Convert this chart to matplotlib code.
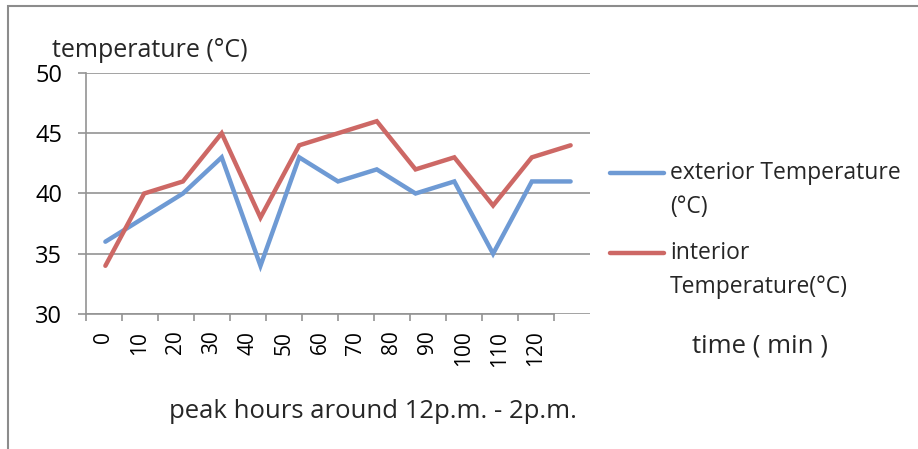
import matplotlib.pyplot as plt
import numpy as np
from matplotlib.lines import Line2D
from matplotlib.patches import Rectangle

plt.rcParams["font.family"] = ["Open Sans", "DejaVu Sans"]

times = ["0", "10", "20", "30", "40", "50", "60", "70", "80", "90", "100", "110", "120"]
exterior = [36, 38, 40, 43, 34, 43, 41, 42, 40, 41, 35, 41, 41]
interior = [34, 40, 41, 45, 38, 44, 45, 46, 42, 43, 39, 43, 44]
y_ticks = [30, 35, 40, 45, 50]

BLUE = "#6E9AD4"
RED = "#CD6865"
GRID = "#939393"
TEXT = "#262626"

W, H = 918, 449
fig = plt.figure(figsize=(W / 100, H / 100), dpi=100)

# data area (lines + gridlines) runs a bit wider than the category axis, as in the source
ax = fig.add_axes([86 / W, 0.3007, 504 / W, 0.5367])
# category axis with ticks / labels
cax = fig.add_axes([86 / W, 0.3007, 468 / W, 0.5367], sharey=ax)
cax.patch.set_visible(False)

x = np.arange(len(times))
ax.plot(x, exterior, color=BLUE, lw=3.2, solid_capstyle="round", solid_joinstyle="miter")
ax.plot(x, interior, color=RED, lw=3.2, solid_capstyle="round", solid_joinstyle="miter")

ax.set_xlim(-0.5, len(times) - 0.5)
ax.set_ylim(30, 50)
ax.set_yticks(y_ticks)
ax.set_yticklabels([str(v) for v in y_ticks], fontsize=17, color="black")
ax.yaxis.grid(True, color=GRID, lw=1.2)
ax.set_axisbelow(True)
ax.set_xticks([])
ax.tick_params(axis="y", length=6, color=GRID, width=1.2, pad=11)
for side in ["top", "right", "bottom"]:
    ax.spines[side].set_visible(False)
ax.spines["left"].set_color(GRID)
ax.spines["left"].set_linewidth(1.2)

cax.set_xlim(-0.5, len(times) - 0.5)
cax.set_xticks(x)
cax.set_xticklabels(times, rotation=90, fontsize=15, color="black", va="top")
cax.set_xticks(np.arange(-0.5, len(times)), minor=True)
cax.tick_params(axis="x", which="major", length=0, pad=12)
cax.tick_params(axis="x", which="minor", length=5, color=GRID, width=1.2)
cax.tick_params(axis="y", left=False, labelleft=False)
for side in ["top", "right", "left"]:
    cax.spines[side].set_visible(False)
cax.spines["bottom"].set_color(GRID)
cax.spines["bottom"].set_linewidth(1.2)

fig.text(52 / W, 0.873, "temperature (°C)", fontsize=18, color=TEXT, va="baseline")
fig.text(373 / W, 0.069, "peak hours around 12p.m. - 2p.m.", fontsize=18.5, color=TEXT, ha="center")
fig.text(692 / W, 0.214, "time ( min )", fontsize=18.5, color=TEXT)

# legend drawn by hand so the handle sits on the first text line
legend_items = [
    (BLUE, ["exterior Temperature", "(°C)"], 173),
    (RED, ["interior", "Temperature(°C)"], 253),
]
for color, lines, ypx in legend_items:
    yf = 1 - ypx / H
    fig.add_artist(Line2D([610 / W, 664 / W], [yf, yf], color=color, lw=3.2,
                          solid_capstyle="round", transform=fig.transFigure))
    for i, txt in enumerate(lines):
        fig.text(670 / W, 1 - (ypx + 34 * i) / H, txt, fontsize=16.5, color=TEXT,
                 va="center")

fig.add_artist(Rectangle((0.009, -0.05), 1.2, 1.037, transform=fig.transFigure,
                         fill=False, edgecolor="#8C8C8C", lw=1.5))

fig.savefig("out.png", dpi=100, facecolor="white")
